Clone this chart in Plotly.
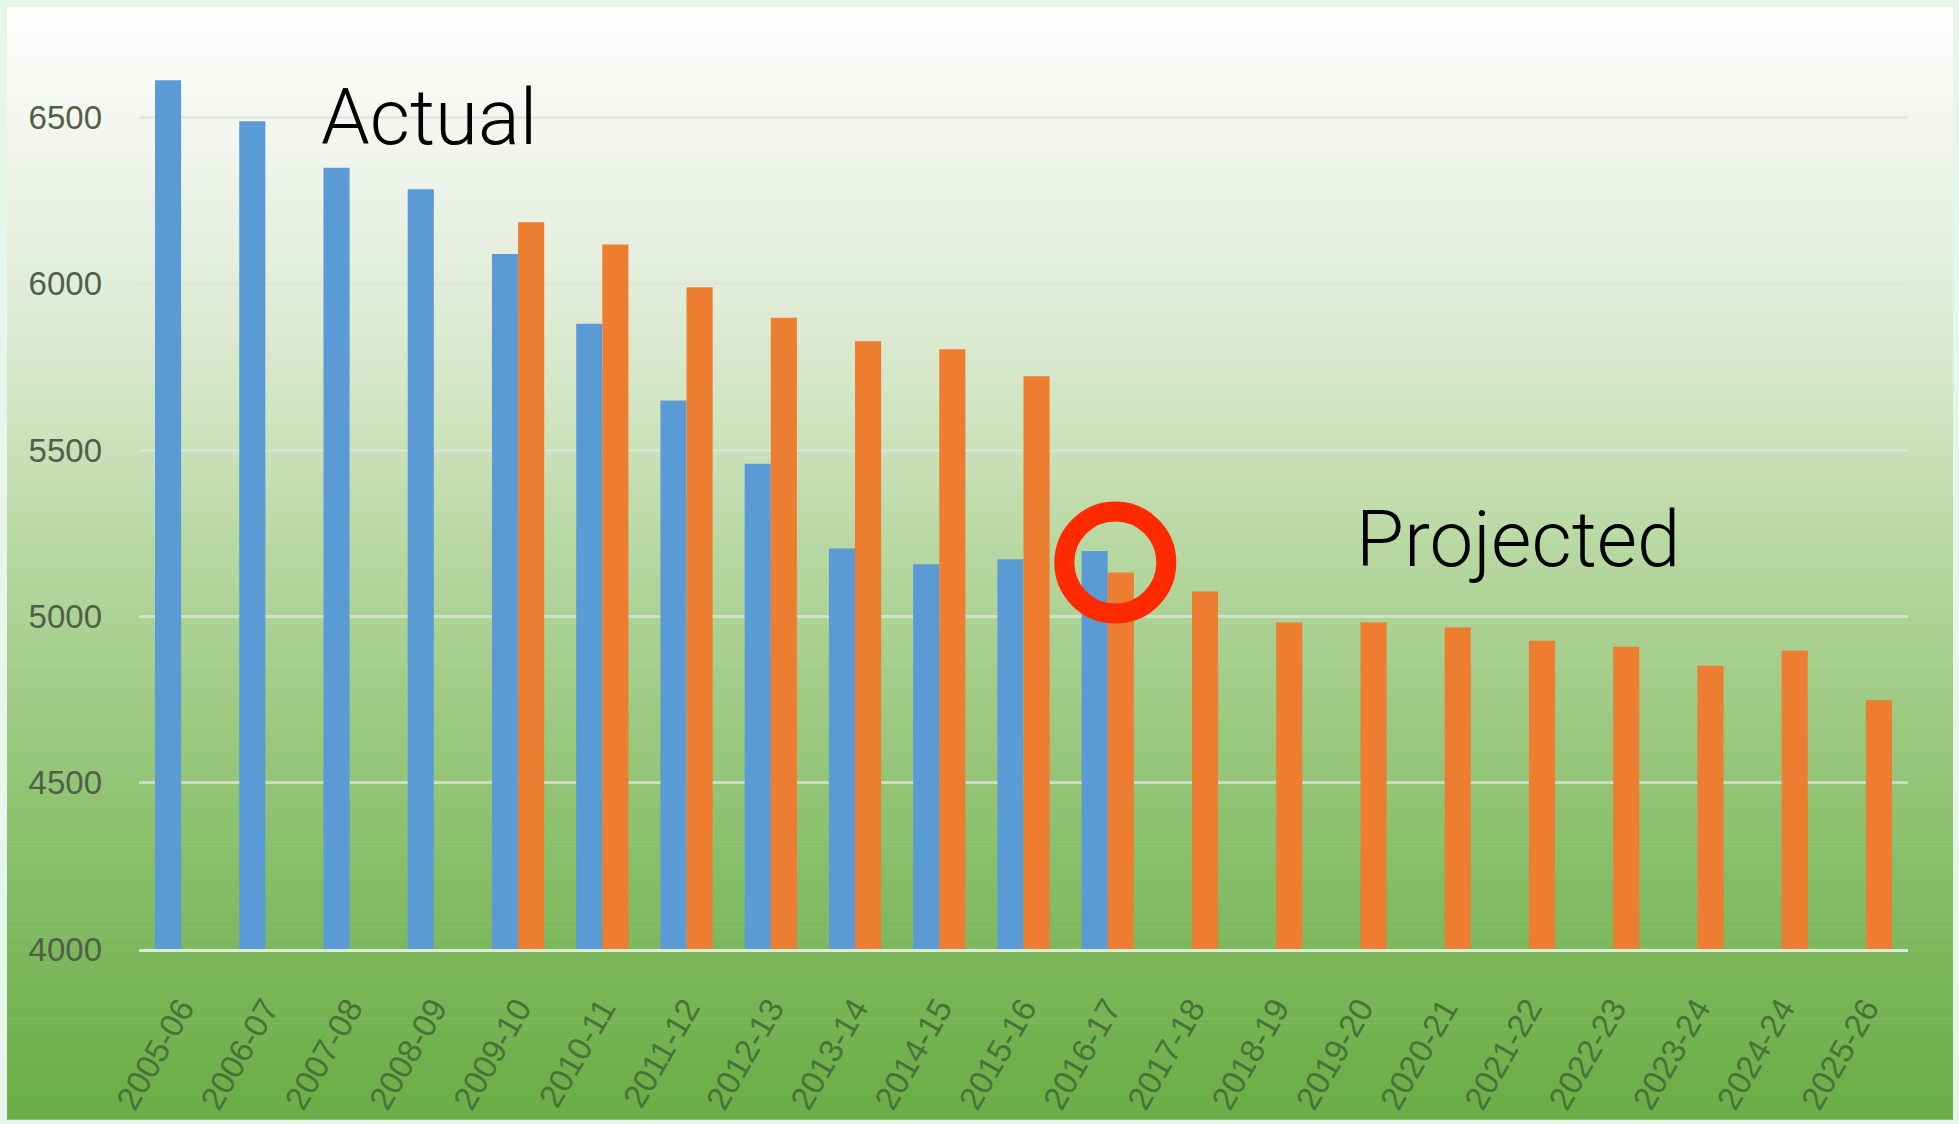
import plotly.graph_objects as go

# ---------------- data ----------------
categories = ["2005-06", "2006-07", "2007-08", "2008-09", "2009-10", "2010-11",
              "2011-12", "2012-13", "2013-14", "2014-15", "2015-16", "2016-17",
              "2017-18", "2018-19", "2019-20", "2020-21", "2021-22", "2022-23",
              "2023-24", "2024-24", "2025-26"]

actual = [6612, 6489, 6349, 6284, 6090, 5880, 5649, 5459, 5204, 5157, 5172, 5197,
          None, None, None, None, None, None, None, None, None]

projected = [None, None, None, None, 6185, 6118, 5990, 5898, 5827, 5803, 5722, 5132,
             5075, 4982, 4982, 4967, 4927, 4909, 4852, 4897, 4748]

y_ticks = [4000, 4500, 5000, 5500, 6000, 6500]

# ---------------- layout geometry ----------------
W, H = 1959, 1124
ML, MR, MT, MB = 139, 51, 8, 171
PW, PH = W - ML - MR, H - MT - MB
PX_PER_UNIT = 167 / 500.0
Y_MIN = 4000
Y_MAX = Y_MIN + PH / PX_PER_UNIT
BORDER = "#E7F6EA"


def paper_x(px):
    return (px - ML) / PW


def paper_y(py):
    return (H - MB - py) / PH


def hex2rgb(h):
    h = h.lstrip("#")
    return tuple(int(h[i:i + 2], 16) for i in (0, 2, 4))


grad_stops = [(7, "#FFFFFF"), (60, "#FAFBF8"), (150, "#F1F5ED"), (300, "#E0ECD7"),
              (420, "#CFE4C0"), (560, "#B6D7A0"), (700, "#A0CB85"), (820, "#8EC270"),
              (950, "#7DB85D"), (1124, "#6AAD45")]


def grad_color(py):
    for (y0, c0), (y1, c1) in zip(grad_stops[:-1], grad_stops[1:]):
        if py <= y1:
            t = (py - y0) / (y1 - y0)
            a, b = hex2rgb(c0), hex2rgb(c1)
            return "rgb(%d,%d,%d)" % tuple(round(a[k] + (b[k] - a[k]) * t) for k in range(3))
    return grad_stops[-1][1]


shapes = []
N = 220
top, bottom = 7, H
for i in range(N):
    ya = top + (bottom - top) * i / N
    yb = top + (bottom - top) * (i + 1) / N
    shapes.append(dict(type="rect", xref="paper", yref="paper",
                       x0=paper_x(7), x1=paper_x(1953),
                       y0=paper_y(yb + 0.6), y1=paper_y(ya),
                       fillcolor=grad_color((ya + yb) / 2), line=dict(width=0),
                       layer="below"))

# red highlight ring around 2016-17
shapes.append(dict(type="circle", xref="x", yref="y",
                   xsizemode="pixel", ysizemode="pixel",
                   xanchor=11.09, yanchor=5162,
                   x0=-51, x1=51, y0=-51, y1=51,
                   line=dict(color="#FF2A00", width=20), layer="above"))

fig = go.Figure()
fig.add_trace(go.Bar(x=categories, y=actual, name="Actual",
                     marker=dict(color="#5B9BD5", line=dict(width=0))))
fig.add_trace(go.Bar(x=categories, y=projected, name="Projected",
                     marker=dict(color="#ED7D31", line=dict(width=0))))

annotations = [
    dict(x=2.94, y=6500, xref="x", yref="y", text="Actual", showarrow=False,
         xanchor="center", yanchor="middle",
         font=dict(family="Roboto, Liberation Sans, sans-serif", size=78,
                   color="#000000", weight=300)),
    dict(x=15.87, y=5232, xref="x", yref="y", text="Projected", showarrow=False,
         xanchor="center", yanchor="middle",
         font=dict(family="Roboto, Liberation Sans, sans-serif", size=78,
                   color="#000000", weight=300)),
]

fig.update_layout(
    width=W, height=H,
    margin=dict(l=ML, r=MR, t=MT, b=MB, pad=0),
    paper_bgcolor=BORDER,
    plot_bgcolor="rgba(0,0,0,0)",
    barmode="group",
    bargap=0.38,
    bargroupgap=0,
    showlegend=False,
    shapes=shapes,
    annotations=annotations,
    xaxis=dict(type="category", range=[-0.5, 20.5], showgrid=False,
               showline=True, linecolor="rgba(236,246,232,0.85)", linewidth=3,
               ticks="", tickangle=-60, ticklabelstandoff=24,
               tickfont=dict(family="Liberation Sans Narrow, Arial Narrow, Liberation Sans",
                             size=33, color="#4A7238")),
    yaxis=dict(range=[Y_MIN, Y_MAX], tickvals=y_ticks, showgrid=True,
               gridcolor="rgba(222,228,218,0.75)", gridwidth=3, zeroline=False,
               showline=False, ticks="", ticklabelstandoff=36,
               tickfont=dict(family="Liberation Sans Narrow, Arial Narrow, Liberation Sans",
                             size=33, color="#505F4A")),
)

fig.write_html(
    "out.html",
    config={"displayModeBar": False},
    post_script="document.body.style.margin='0';document.body.style.background='%s';" % BORDER,
)
